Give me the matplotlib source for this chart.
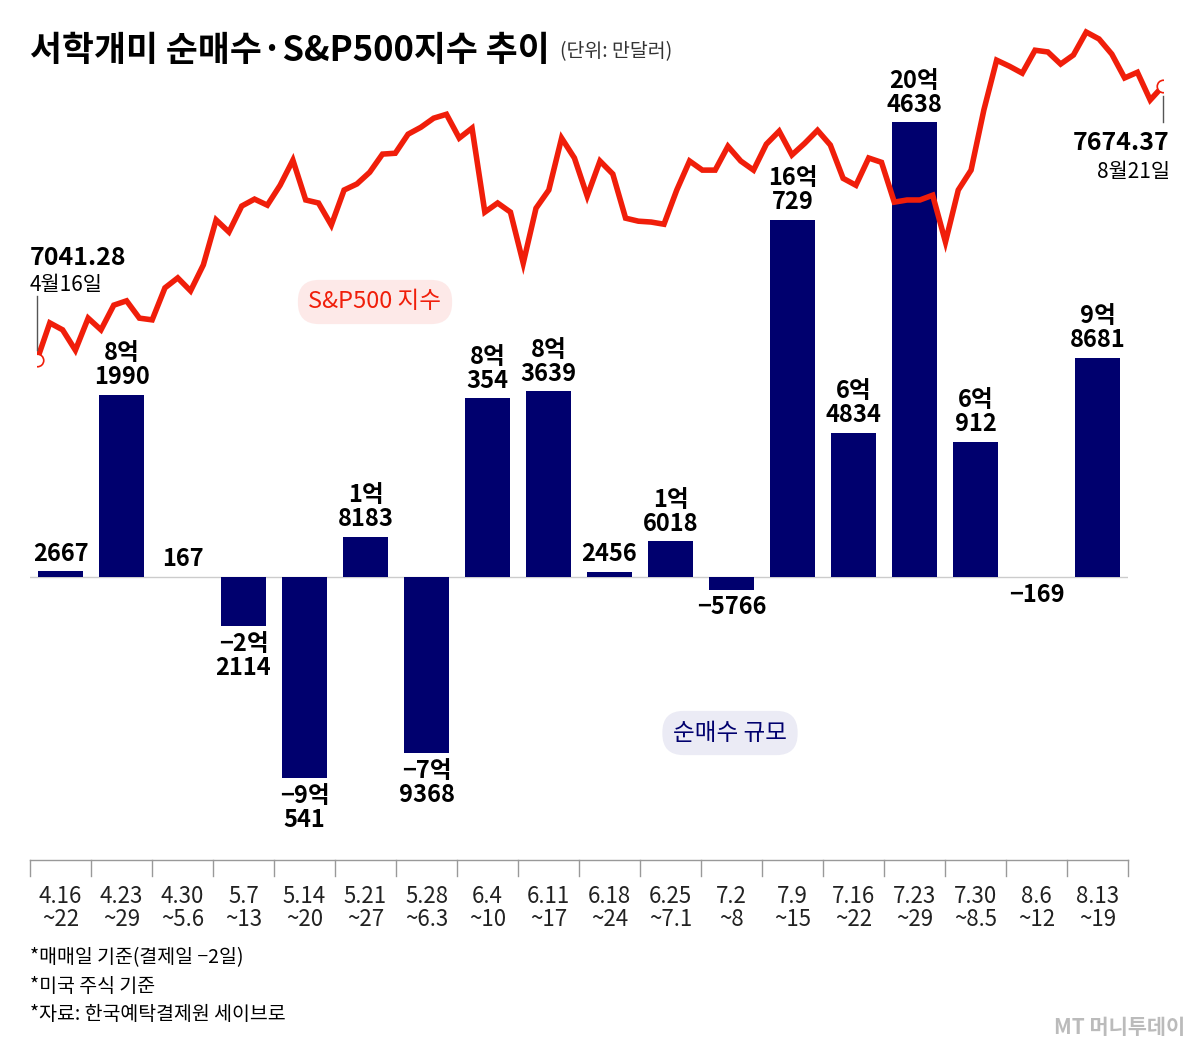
import matplotlib
matplotlib.use("Agg")
import matplotlib.pyplot as plt
from matplotlib.patches import FancyBboxPatch

plt.rcParams['font.family'] = ['Noto Sans CJK KR', 'DejaVu Sans']

weeks = ["4.16\n~22","4.23\n~29","4.30\n~5.6","5.7\n~13","5.14\n~20","5.21\n~27","5.28\n~6.3","6.4\n~10","6.11\n~17",
         "6.18\n~24","6.25\n~7.1","7.2\n~8","7.9\n~15","7.16\n~22","7.23\n~29","7.30\n~8.5","8.6\n~12","8.13\n~19"]
net_buy = [2667, 81990, 167, -22114, -90541, 18183, -79368, 80354, 83639,
           2456, 16018, -5766, 160729, 64834, 204638, 60912, -169, 98681]
bar_labels = ["2667","8억\n1990","167","−2억\n2114","−9억\n541","1억\n8183","−7억\n9368","8억\n354","8억\n3639",
              "2456","1억\n6018","−5766","16억\n729","6억\n4834","20억\n4638","6억\n912","−169","9억\n8681"]
sp500 = [7041.28,7127,7111,7064,7138,7111,7168,7178,7138,7134,7208,7231,7201,7261,7365,7337,7397,7413,7399,7445,
         7503,7411,7404,7353,7434,7448,7475,7517,7519,7563,7579,7600,7609,7554,7577,7383,7404,7383,7265,7392,
         7434,7554,7508,7420,7501,7471,7369,7362,7360,7355,7434,7501,7480,7480,7535,7501,7480,7540,7570,7515,
         7542,7572,7538,7461,7445,7508,7498,7406,7411,7411,7422,7314,7434,7480,7619,7734,7720,7704,7757,7753,
         7725,7746,7799,7783,7748,7693,7706,7642,7674.37]

W, H = 1200, 1054
fig = plt.figure(figsize=(12, 10.54), dpi=100)
def rect(x0, x1, ytop, ybot):
    return [x0/W, (H-ybot)/H, (x1-x0)/W, (ybot-ytop)/H]

NAVY = "#00006e"
RED = "#f01e0a"

# bars
ax = fig.add_axes(rect(30, 1128, 40, 860))
vpp = 450.0
ax.set_ylim(-(860-577)*vpp, (577-40)*vpp)
ax.set_xlim(-0.5, len(net_buy)-0.5)
xs = list(range(len(net_buy)))
ax.bar(xs, net_buy, width=0.74, color=NAVY, zorder=2)
ax.axhline(0, color="#cccccc", lw=1, zorder=1)
for x, v, lab in zip(xs, net_buy, bar_labels):
    if v >= 0:
        ax.text(x, v + 2500, lab, ha="center", va="bottom", fontsize=17, fontweight="bold", linespacing=1.0)
    else:
        ax.text(x, v - 2500, lab, ha="center", va="top", fontsize=17, fontweight="bold", linespacing=1.0)
ax.axis("off")

# line
lx = fig.add_axes(rect(37, 1163, 0, 1054))
lx.set_xlim(0, len(sp500)-1)
lx.set_ylim(7041.28 - 694*2.3105, 7041.28 + 360*2.3105)
lx.plot(range(len(sp500)), sp500, color=RED, lw=4, zorder=3, solid_joinstyle="miter")
lx.plot([0, len(sp500)-1], [sp500[0], sp500[-1]], "o", ms=9, mfc="white", mec=RED, mew=1.2, zorder=4)
lx.axis("off")

# axis with ticks
fig.add_artist(plt.Line2D([30/W, 1128/W], [(H-860)/H]*2, color="#999999", lw=1))
for i in range(len(net_buy)+1):
    x = (30 + 61*i)/W
    fig.add_artist(plt.Line2D([x, x], [(H-860)/H, (H-876)/H], color="#999999", lw=1))
for i, w in enumerate(weeks):
    fig.text((60.5 + 61*i)/W, (H-908)/H, w, ha="center", va="center", fontsize=16, color="#222222", linespacing=1.05)

def ftext(x, y, s, **kw):
    fig.text(x/W, (H-y)/H, s, **kw)

ftext(30, 50, "서학개미 순매수·S&P500지수 추이", fontsize=25, fontweight="bold", va="center")
ftext(560, 52, "(단위: 만달러)", fontsize=14, va="center", color="#333333")
ftext(30, 258, "7041.28", fontsize=18, fontweight="bold", va="center")
ftext(30, 285, "4월16일", fontsize=15, va="center")
fig.add_artist(plt.Line2D([37/W]*2, [(H-296)/H, (H-350)/H], color="#555555", lw=1))
ftext(1170, 143, "7674.37", fontsize=18, fontweight="bold", va="center", ha="right")
ftext(1170, 172, "8월21일", fontsize=15, va="center", ha="right")
fig.add_artist(plt.Line2D([1163/W]*2, [(H-96)/H, (H-122)/H], color="#555555", lw=1))

for (cx, cy, s, tc, bc) in [(375, 302, "S&P500 지수", RED, "#fde9e8"), (730, 733, "순매수 규모", NAVY, "#ebebf5")]:
    fig.text(cx/W, (H-cy)/H, s, ha="center", va="center", fontsize=17, color=tc,
             bbox=dict(boxstyle="round,pad=0.45,rounding_size=0.9", fc=bc, ec="none"))

ftext(30, 958, "*매매일 기준(결제일 −2일)", fontsize=14, va="center")
ftext(30, 986, "*미국 주식 기준", fontsize=14, va="center")
ftext(30, 1014, "*자료: 한국예탁결제원 세이브로", fontsize=14, va="center")
ftext(1185, 1027, "MT 머니투데이", fontsize=15, va="center", ha="right", color="#bbbbbb", fontweight="bold")

fig.savefig("out.png", dpi=100, facecolor="white")
